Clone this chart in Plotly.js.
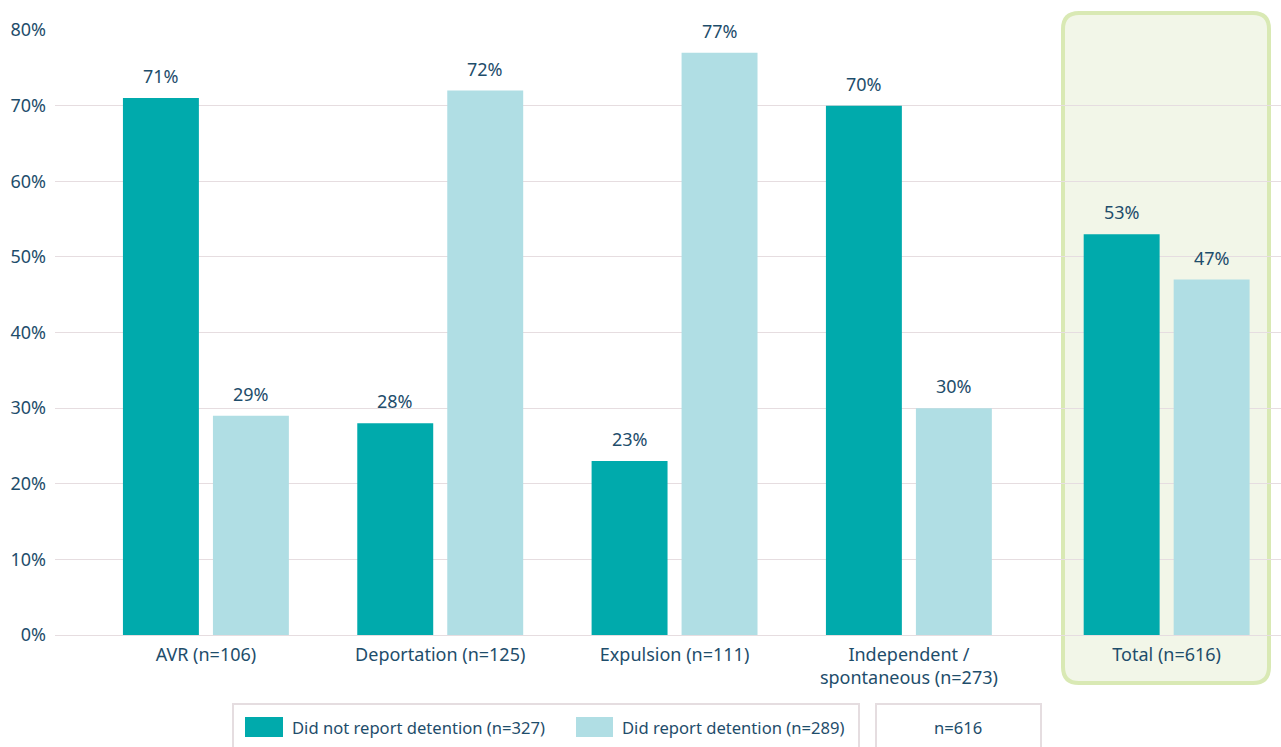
<!DOCTYPE html>
<html>
<head>
<meta charset="utf-8">
<script src="https://cdn.plot.ly/plotly-3.0.1.min.js"></script>
<style>html,body{margin:0;padding:0;background:#fff;}#chart{width:1281px;height:747px;}</style>
</head>
<body>
<div id="chart"></div>
<script>
const categories = ['AVR (n=106)', 'Deportation (n=125)', 'Expulsion (n=111)', 'Independent /<br>spontaneous (n=273)', 'Total (n=616)'];
const seriesNames = ['Did not report detention (n=327)', 'Did report detention (n=289)'];
const notReported = [71, 28, 23, 70, 53];
const reported = [29, 72, 77, 30, 47];
const yTickVals = [0, 10, 20, 30, 40, 50, 60, 70, 80];
const yTickText = ['0%', '10%', '20%', '30%', '40%', '50%', '60%', '70%', '80%'];
const sampleNote = 'n=616';

const W = 1281, H = 747;
const M = {l: 55, r: 0, t: 30, b: 112};
const PW = W - M.l - M.r, PH = H - M.t - M.b;
const px = x => (x - M.l) / PW;
const py = y => (H - M.b - y) / PH;

const DARK = '#00aaac', LIGHT = '#b0dee4', TXT = '#1e4d6b', GRID = '#e6dde0';
const FONT = '"Noto Sans", "Open Sans", sans-serif';

// extra gap before the Total group
const xPos = categories.map((c, i) => i + (i === categories.length - 1 ? 0.1 : 0));

const traces = [
  {type: 'bar', name: seriesNames[0], x: xPos, y: notReported, marker: {color: DARK}, showlegend: false, hoverinfo: 'skip'},
  {type: 'bar', name: seriesNames[1], x: xPos, y: reported, marker: {color: LIGHT}, showlegend: false, hoverinfo: 'skip'}
];

const annotations = [];
[notReported, reported].forEach((vals, s) => {
  vals.forEach((v, i) => {
    annotations.push({x: xPos[i], y: v, xref: 'x', yref: 'y', text: v + '%', showarrow: false,
      xshift: s === 0 ? -45 : 45, yshift: 22, font: {family: FONT, size: 18, color: TXT}});
  });
});

function roundRect(x0, y0, x1, y1, r) {
  const X = v => px(v).toFixed(5), Y = v => py(v).toFixed(5);
  return `M ${X(x0 + r)},${Y(y0)} L ${X(x1 - r)},${Y(y0)} Q ${X(x1)},${Y(y0)} ${X(x1)},${Y(y0 + r)} ` +
    `L ${X(x1)},${Y(y1 - r)} Q ${X(x1)},${Y(y1)} ${X(x1 - r)},${Y(y1)} L ${X(x0 + r)},${Y(y1)} ` +
    `Q ${X(x0)},${Y(y1)} ${X(x0)},${Y(y1 - r)} L ${X(x0)},${Y(y0 + r)} Q ${X(x0)},${Y(y0)} ${X(x0 + r)},${Y(y0)} Z`;
}

const shapes = [
  {type: 'path', xref: 'paper', yref: 'paper', layer: 'below', path: roundRect(1063, 13, 1269, 683, 16),
    fillcolor: '#f2f6e8', line: {color: '#d9e9b4', width: 4}},
  {type: 'rect', xref: 'paper', yref: 'paper', x0: px(233), x1: px(859), y0: py(704), y1: py(760),
    line: {color: '#e5dde0', width: 2}, fillcolor: 'rgba(0,0,0,0)'},
  {type: 'rect', xref: 'paper', yref: 'paper', x0: px(876), x1: px(1041), y0: py(704), y1: py(760),
    line: {color: '#e5dde0', width: 2}, fillcolor: 'rgba(0,0,0,0)'},
  {type: 'rect', xref: 'paper', yref: 'paper', x0: px(245), x1: px(283), y0: py(717), y1: py(737),
    line: {width: 0}, fillcolor: DARK},
  {type: 'rect', xref: 'paper', yref: 'paper', x0: px(576), x1: px(613), y0: py(717), y1: py(737),
    line: {width: 0}, fillcolor: LIGHT}
];

annotations.push(
  {xref: 'paper', yref: 'paper', x: px(290), y: py(727), xanchor: 'left', yanchor: 'middle', text: seriesNames[0], showarrow: false, font: {family: FONT, size: 16.6, color: TXT}},
  {xref: 'paper', yref: 'paper', x: px(620), y: py(727), xanchor: 'left', yanchor: 'middle', text: seriesNames[1], showarrow: false, font: {family: FONT, size: 16.6, color: TXT}},
  {xref: 'paper', yref: 'paper', x: px(958), y: py(727), xanchor: 'center', yanchor: 'middle', text: sampleNote, showarrow: false, font: {family: FONT, size: 16.6, color: TXT}}
);

const layout = {
  width: W, height: H,
  margin: M,
  paper_bgcolor: 'rgba(0,0,0,0)', plot_bgcolor: 'rgba(0,0,0,0)',
  barmode: 'group', bargap: 0.232, bargroupgap: 0.156,
  font: {family: FONT, size: 18, color: TXT},
  xaxis: {range: [-0.644, 4.588], tickvals: xPos, ticktext: categories, showgrid: false, zeroline: false,
    showline: false, ticks: '', ticklabelstandoff: 7, tickfont: {family: FONT, size: 18, color: TXT}, fixedrange: true},
  yaxis: {range: [0, 80], tickvals: yTickVals, ticktext: yTickText, showgrid: true, gridcolor: GRID, gridwidth: 1,
    zeroline: true, zerolinecolor: GRID, zerolinewidth: 1, showline: false, ticks: '', ticklabelstandoff: 8,
    tickfont: {family: FONT, size: 18, color: TXT}, fixedrange: true},
  shapes: shapes,
  annotations: annotations,
  showlegend: false
};

Plotly.newPlot('chart', traces, layout, {displayModeBar: false, staticPlot: true});
</script>
</body>
</html>
